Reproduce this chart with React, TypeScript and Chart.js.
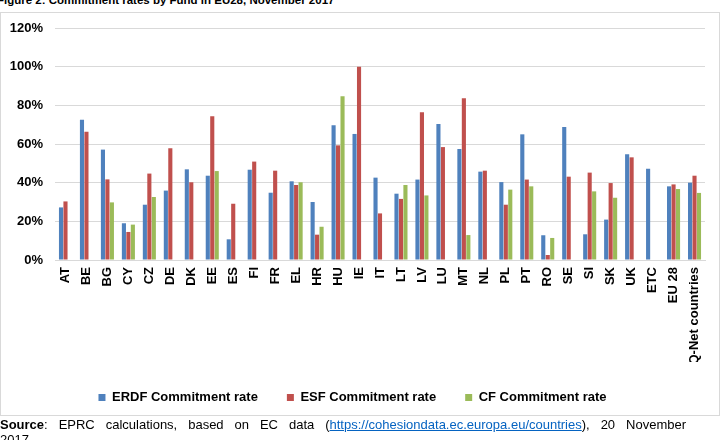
import { useEffect, useRef } from "react";
import { Chart, registerables } from "chart.js";

Chart.register(...registerables);

// Member states and aggregates shown along the x axis
const countries = [
  "AT", "BE", "BG", "CY", "CZ", "DE", "DK", "EE", "ES", "FI", "FR", "EL", "HR", "HU", "IE", "IT",
  "LT", "LV", "LU", "MT", "NL", "PL", "PT", "RO", "SE", "SI", "SK", "UK", "ETC", "EU 28", "IQ-Net countries",
];

// Commitment rates in percent (null = fund not present)
const erdfRates = [
  27.2, 72.6, 57.1, 19.0, 28.6, 35.9, 46.9, 43.6, 10.7, 46.7, 34.8, 40.7, 30.0, 69.7, 65.2, 42.6,
  34.3, 41.6, 70.3, 57.4, 45.7, 40.3, 65.0, 12.8, 68.8, 13.3, 20.9, 54.7, 47.2, 38.1, 40.0,
];
const esfRates = [
  30.3, 66.4, 41.7, 14.5, 44.7, 57.8, 40.2, 74.3, 29.1, 50.9, 46.2, 38.8, 13.1, 59.3, 100.0, 24.1,
  31.6, 76.4, 58.4, 83.6, 46.2, 28.6, 41.6, 2.6, 43.1, 45.2, 39.8, 53.1, null, 39.1, 43.6,
];
const cfRates = [
  null, null, 29.8, 18.3, 32.6, null, null, 46.0, null, null, null, 40.2, 17.2, 84.7, null, null,
  38.8, 33.4, null, 12.9, null, 36.4, 38.1, 11.4, null, 35.5, 32.2, null, null, 36.7, 34.7,
];

const seriesNames = ["ERDF Commitment rate", "ESF Commitment rate", "CF Commitment rate"];
const seriesColors = ["#4F81BD", "#C0504D", "#9BBB59"];

const yMax = 120;
const yStep = 20;

const FONT = '"Liberation Sans", Arial, Helvetica, sans-serif';

export default function App() {
  const canvasRef = useRef<HTMLCanvasElement | null>(null);

  useEffect(() => {
    const canvas = canvasRef.current;
    if (!canvas) return;
    const values = [erdfRates, esfRates, cfRates];
    const chart = new Chart(canvas, {
      type: "bar",
      data: {
        labels: countries,
        datasets: values.map((data, i) => ({
          label: seriesNames[i],
          data,
          backgroundColor: seriesColors[i],
          borderWidth: 0,
          categoryPercentage: 0.64,
          barPercentage: 0.92,
        })),
      },
      options: {
        responsive: false,
        animation: false,
        devicePixelRatio: 1,
        layout: { padding: { top: 28, right: 15, bottom: 6, left: 0 } },
        plugins: {
          title: { display: false },
          tooltip: { enabled: false },
          legend: {
            position: "bottom",
            labels: {
              boxWidth: 7,
              boxHeight: 7,
              padding: 29,
              color: "#000",
              font: { family: FONT, size: 13, weight: "bold" },
            },
          },
        },
        scales: {
          x: {
            grid: { display: false, drawTicks: false },
            border: { display: true, color: "#d9d9d9" },
            ticks: {
              autoSkip: false,
              minRotation: 90,
              maxRotation: 90,
              padding: 7,
              color: "#000",
              font: { family: FONT, size: 13, weight: "bold" },
            },
            afterFit: (scale: any) => {
              scale.height = 102;
            },
          },
          y: {
            min: 0,
            max: yMax,
            grid: { color: "#d9d9d9", lineWidth: 1, drawTicks: false },
            border: { display: false },
            ticks: {
              stepSize: yStep,
              padding: 12,
              color: "#000",
              font: { family: FONT, size: 13, weight: "bold" },
              callback: (v: any) => `${v}%`,
            },
            afterFit: (scale: any) => {
              scale.width = 55;
            },
          },
        },
      },
    });
    return () => chart.destroy();
  }, []);

  return (
    <div
      style={{
        position: "absolute",
        left: 0,
        top: 0,
        width: 722,
        height: 440,
        overflow: "hidden",
        background: "#fff",
        fontFamily: FONT,
        color: "#000",
      }}
    >
      <div
        style={{
          position: "absolute",
          left: -3,
          top: -6,
          fontSize: 11.5,
          lineHeight: "12px",
          fontWeight: "bold",
          whiteSpace: "nowrap",
        }}
      >
        Figure 2: Commitment rates by Fund in EU28, November 2017
      </div>
      <div
        style={{
          position: "absolute",
          left: 0,
          top: 12,
          width: 720,
          height: 404,
          boxSizing: "border-box",
          border: "1px solid #d9d9d9",
        }}
      />
      <canvas
        ref={canvasRef}
        width={720}
        height={420}
        style={{ position: "absolute", left: 0, top: 0, width: 720, height: 420 }}
      />
      <div
        style={{
          position: "absolute",
          left: 0,
          top: 417,
          width: 686,
          fontSize: 13,
          lineHeight: "15px",
          textAlign: "justify",
          textAlignLast: "justify",
        }}
      >
        <b>Source</b>: EPRC calculations, based on EC data (
        <span style={{ color: "#0563C1", textDecoration: "underline" }}>
          https://cohesiondata.ec.europa.eu/countries
        </span>
        ), 20 November
      </div>
      <div
        style={{
          position: "absolute",
          left: 0,
          top: 432,
          fontSize: 13,
          lineHeight: "15px",
        }}
      >
        2017.
      </div>
    </div>
  );
}
